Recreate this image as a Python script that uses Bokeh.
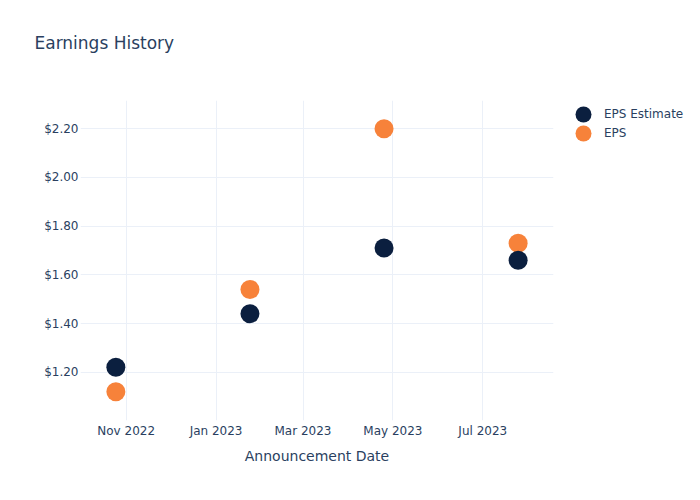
from datetime import datetime
from bokeh.plotting import figure
from bokeh.layouts import row
from bokeh.models import (ColumnDataSource, FixedTicker, DatetimeTickFormatter,
                          NumeralTickFormatter, Legend, LegendItem, Range1d, Title)
from bokeh.embed import file_html
from bokeh.resources import INLINE

# ---- data ----
dates = ["2022-10-25", "2023-01-24", "2023-04-25", "2023-07-25"]
eps_estimate = [1.22, 1.44, 1.71, 1.66]
eps_actual = [1.12, 1.54, 2.20, 1.73]
x_tick_dates = ["2022-11-01", "2023-01-01", "2023-03-01", "2023-05-01", "2023-07-01"]
y_ticks = [1.2, 1.4, 1.6, 1.8, 2.0, 2.2]
title_text = "Earnings History"
x_title = "Announcement Date"
series_names = ["EPS Estimate", "EPS"]

NAVY = "#0b1f3f"
ORANGE = "#f7823a"
TEXT = "#2a3f5f"
GRID = "#ebf0f8"
FONT = "DejaVu Sans"

def to_dt(s):
    return datetime.strptime(s, "%Y-%m-%d")

def to_ms(s):
    return (to_dt(s) - datetime(1970, 1, 1)).total_seconds() * 1000.0

src = ColumnDataSource(dict(date=[to_dt(d) for d in dates], est=eps_estimate, eps=eps_actual))

p = figure(width=563, height=484, x_axis_type="datetime", output_backend="svg",
           toolbar_location=None, min_border_left=80, min_border_right=10,
           min_border_top=100, min_border_bottom=64,
           x_range=Range1d(to_dt("2022-10-01"), to_dt("2023-08-18")),
           y_range=Range1d(1.0016, 2.316))

p.outline_line_color = None
p.background_fill_color = "white"
p.border_fill_color = "white"

# spacer between the frame and the title, then the title itself (outermost)
p.add_layout(Title(text=" ", text_font=FONT, text_font_size="12px", standoff=32), "above")
p.add_layout(Title(text=title_text, text_font=FONT, text_font_size="17px",
                   text_font_style="normal", text_color=TEXT, align="left",
                   vertical_align="bottom", offset=-46, standoff=0), "above")

for ax in (p.xaxis[0], p.yaxis[0]):
    ax.axis_line_color = None
    ax.major_tick_line_color = None
    ax.minor_tick_line_color = None
    ax.major_tick_out = 0
    ax.major_tick_in = 0
    ax.minor_tick_out = 0
    ax.minor_tick_in = 0
    ax.major_label_text_color = TEXT
    ax.major_label_text_font = FONT
    ax.major_label_text_font_size = "12px"

p.xaxis.ticker = FixedTicker(ticks=[to_ms(d) for d in x_tick_dates])
p.xaxis.formatter = DatetimeTickFormatter(months="%b %Y", days="%b %Y", years="%b %Y")
p.xaxis.major_label_standoff = 3
p.xaxis.axis_label = x_title
p.xaxis.axis_label_text_font = FONT
p.xaxis.axis_label_text_font_size = "14px"
p.xaxis.axis_label_text_font_style = "normal"
p.xaxis.axis_label_text_color = TEXT
p.xaxis.axis_label_standoff = 7
p.yaxis.ticker = FixedTicker(ticks=y_ticks)
p.yaxis.formatter = NumeralTickFormatter(format="$0.00")
p.yaxis.major_label_standoff = 2

p.xgrid.grid_line_color = GRID
p.ygrid.grid_line_color = GRID

p.scatter("date", "eps", source=src, size=19, color=ORANGE, line_color=None)
p.scatter("date", "est", source=src, size=19, color=NAVY, line_color=None)

# legend panel (a separate, axis-less figure to the right); its ranges keep
# the series' points out of view so only the legend entries are shown
q = figure(width=121, height=484, output_backend="svg", toolbar_location=None,
           min_border=0, x_range=Range1d(0, 1), y_range=Range1d(0, 1))
q.axis.visible = False
q.grid.visible = False
q.outline_line_color = None
q.border_fill_color = "white"
q.background_fill_color = "white"

l_est = q.scatter("date", "est", source=src, size=19, color=NAVY, line_color=None)
l_eps = q.scatter("date", "eps", source=src, size=19, color=ORANGE, line_color=None)

def make_legend(label, rend, vy):
    return Legend(items=[LegendItem(label=label, renderers=[rend], index=0)],
                  location=(0, vy), orientation="vertical",
                  glyph_width=40, glyph_height=40, label_height=40,
                  padding=0, margin=0, label_standoff=1, spacing=0,
                  label_text_font=FONT, label_text_font_size="12px",
                  label_text_color=TEXT, background_fill_alpha=0,
                  border_line_color=None)

q.add_layout(make_legend(series_names[0], l_est, 286), "center")
q.add_layout(make_legend(series_names[1], l_eps, 267), "center")

layout = row(p, q)
open("out.html", "w").write(file_html(layout, INLINE))
